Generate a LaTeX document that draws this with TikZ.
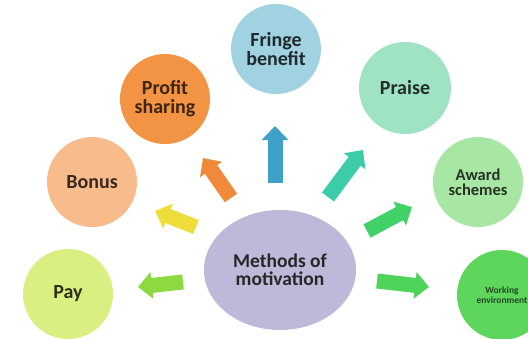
\documentclass[tikz,border=0pt]{standalone}
\usepackage{fontspec}
\setmainfont{Carlito}
\usetikzlibrary{arrows.meta}

\definecolor{fringeC}{HTML}{A0D2E1}
\definecolor{profitC}{HTML}{F39444}
\definecolor{praiseC}{HTML}{9FE3C4}
\definecolor{bonusC}{HTML}{F8BC8C}
\definecolor{awardC}{HTML}{A8E6A3}
\definecolor{payC}{HTML}{DAEF82}
\definecolor{workC}{HTML}{5ED65E}
\definecolor{centerC}{HTML}{BEB9D9}

\definecolor{fringeA}{HTML}{3FA0C8}
\definecolor{profitA}{HTML}{F08A3A}
\definecolor{praiseA}{HTML}{3DCCA8}
\definecolor{bonusA}{HTML}{EEDD3A}
\definecolor{payA}{HTML}{8CD940}
\definecolor{awardA}{HTML}{42D068}
\definecolor{workA}{HTML}{4ED45A}

\tikzset{
  bubble/.style={circle, minimum size=90pt, inner sep=0pt, align=center,
    font=\bfseries\fontsize{20}{19}\selectfont},
  hub/.style={ellipse, minimum width=152pt, minimum height=120pt, inner sep=0pt,
    align=center, fill=centerC, text=black!85,
    font=\bfseries\fontsize{19.5}{18}\selectfont},
  blockarrow/.style={line width=15pt, -{Triangle[width=26pt,length=14pt]}},
}
\usetikzlibrary{shapes.geometric}

\begin{document}
\begin{tikzpicture}[x=1pt, y=-1pt]
  \useasboundingbox (0,0) rectangle (528,338);
  \fill[white] (0,0) rectangle (528,338);
  \clip (0,0) rectangle (528,338);

  % surrounding circles
  \node[bubble, fill=fringeC, text=fringeC!20!black] (fringe) at (276,49) {Fringe\\benefit};
  \node[bubble, fill=profitC, text=profitC!25!black] (profit) at (165,99) {Profit\\sharing};
  \node[bubble, fill=praiseC, text=praiseC!20!black, minimum size=92pt] (praise) at (405,88) {Praise};
  \node[bubble, fill=bonusC, text=bonusC!22!black] (bonus) at (92,182) {Bonus};
  \node[bubble, fill=awardC, text=awardC!22!black,
        font=\bfseries\fontsize{16.5}{15}\selectfont] (award) at (478,182) {Award\\schemes};
  \node[bubble, fill=payC, text=payC!20!black] (pay) at (68,294) {Pay};
  \node[bubble, fill=workC, text=workC!35!black,
        font=\bfseries\fontsize{9.5}{10}\selectfont] (work) at (502,295) {Working\\environment};

  % central ellipse
  \node[hub] (hub) at (280,270) {Methods of\\motivation};

  % arrow ends
  \coordinate (fringeS) at (275,183);  \coordinate (fringeT) at (275,126);
  \coordinate (profitS) at (231,198);  \coordinate (profitT) at (203,158);
  \coordinate (praiseS) at (328,197);  \coordinate (praiseT) at (363,150);
  \coordinate (bonusS)  at (196,227);  \coordinate (bonusT)  at (155,211);
  \coordinate (payS)    at (183,282);  \coordinate (payT)    at (138,287);
  \coordinate (awardS)  at (367,231);  \coordinate (awardT)  at (412,207);
  \coordinate (workS)   at (377,281);  \coordinate (workT)   at (429,287);

  % block arrows
  \draw[blockarrow, fringeA] (fringeS) -- (fringeT);
  \draw[blockarrow, profitA] (profitS) -- (profitT);
  \draw[blockarrow, praiseA] (praiseS) -- (praiseT);
  \draw[blockarrow, bonusA]  (bonusS)  -- (bonusT);
  \draw[blockarrow, payA]    (payS)    -- (payT);
  \draw[blockarrow, awardA]  (awardS)  -- (awardT);
  \draw[blockarrow, workA]   (workS)   -- (workT);
\end{tikzpicture}
\end{document}
